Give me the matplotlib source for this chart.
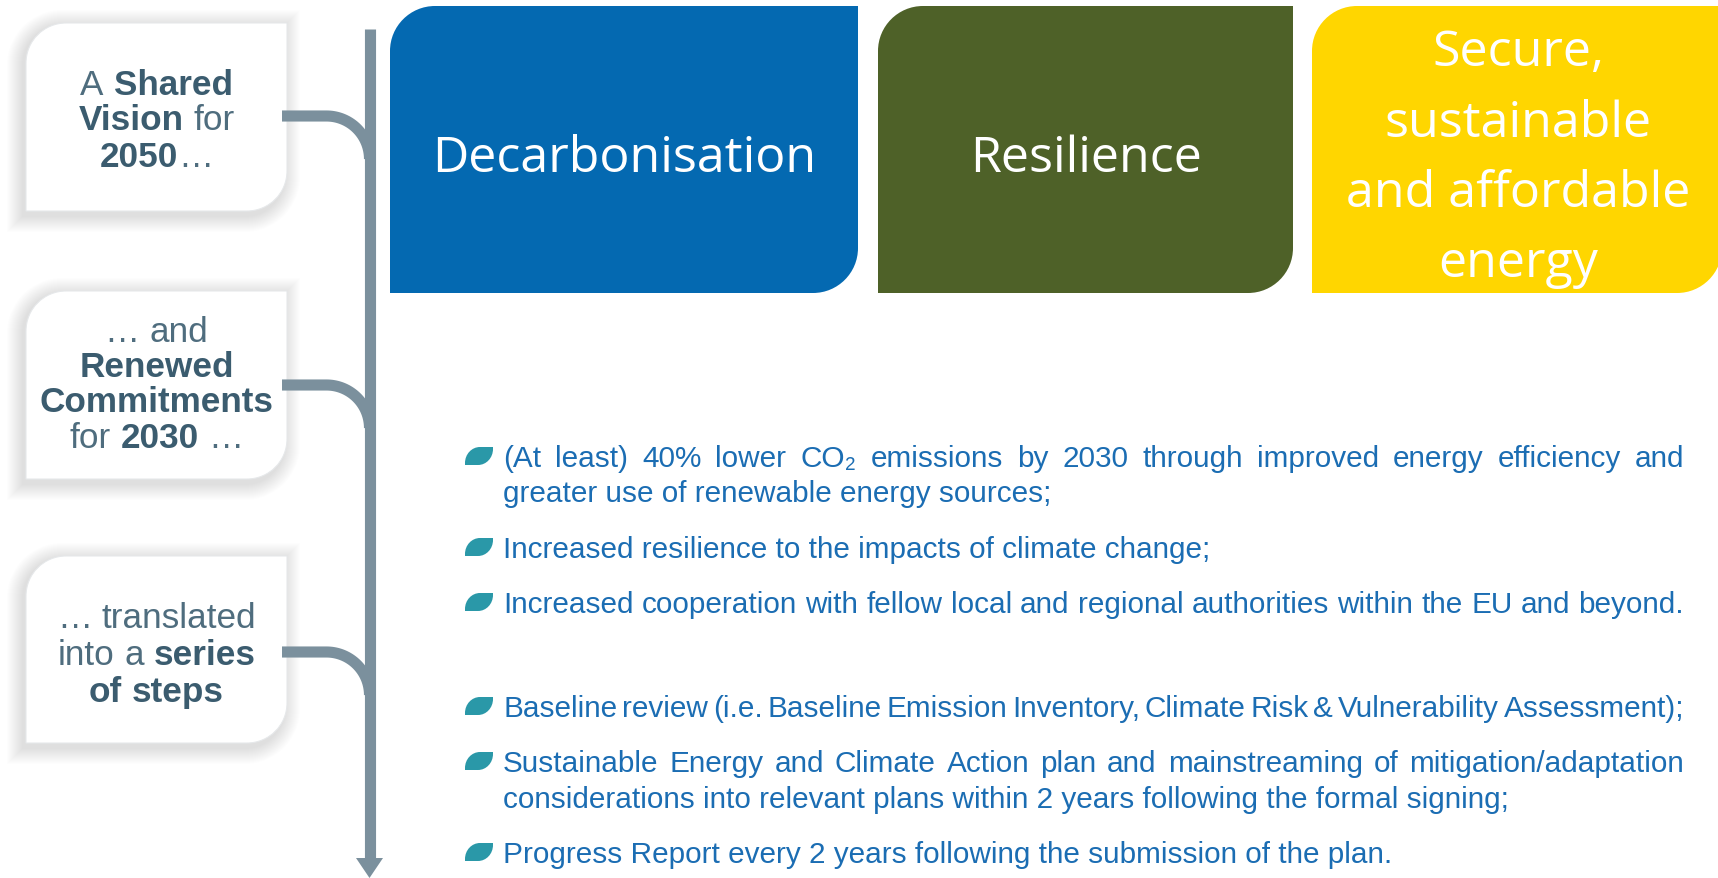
import re
import numpy as np
import matplotlib
matplotlib.use("Agg")
import matplotlib.pyplot as plt
from matplotlib.path import Path
from matplotlib.patches import PathPatch, Polygon

# ---- content ----
pillar_names = ["Decarbonisation", "Resilience", "Secure,\nsustainable\nand affordable\nenergy"]
pillar_colors = ["#0469B1", "#4E6128", "#FFD600"]

stage_text = [
    ["A **Shared**", "**Vision** for", "**2050**…"],
    ["… and", "**Renewed**", "**Commitments**", "for **2030** …"],
    ["… translated", "into a **series**", "**of steps**"],
]

bullet_text = [
    "(At least) 40% lower CO₂ emissions by 2030 through improved energy efficiency and",
    "greater use of renewable energy sources;",
    "Increased resilience to the impacts of climate change;",
    "Increased cooperation with fellow local and regional authorities within the EU and beyond.",
    "Baseline review (i.e. Baseline Emission Inventory, Climate Risk & Vulnerability Assessment);",
    "Sustainable Energy and Climate Action plan and mainstreaming of mitigation/adaptation",
    "considerations into relevant plans within 2 years following the formal signing;",
    "Progress Report every 2 years following the submission of the plan.",
]
has_bullet = [True, False, True, True, True, True, False, True]
justified = [True, False, False, True, True, True, False, False]

# ---- layout (pixels, y down) ----
W, H = 1718, 879
pillar_x = [(390, 858), (878, 1293), (1312, 1722)]
pillar_y = (7, 294)
pillar_baselines = [[172], [172], [66, 137, 207, 277]]
pillar_cx = [624, 1086, 1518]

stage_box_y = [(24, 212), (292, 480), (557, 744)]
stage_box_x = (26, 287)
stage_baselines = [[95, 130, 167], [342, 377, 412, 448], [628, 665, 702]]
stage_conn_y = [117, 386, 653]

bullet_baselines = [467, 502, 558, 613, 717, 772, 808, 863]
text_x0, text_x1 = 503, 1684

line_col = "#7B909D"
stage_col = "#3B5C6F"
stage_col_light = "#4F6D7E"
bullet_col = "#1B6DB3"
leaf_col = "#2A98A8"
sans = ["Liberation Sans", "DejaVu Sans"]

fig = plt.figure(figsize=(W / 100, H / 100), dpi=100)
ax = fig.add_axes([0, 0, 1, 1])
ax.set_xlim(0, W)
ax.set_ylim(H, 0)
ax.axis("off")
renderer = fig.canvas.get_renderer()


def text_width(s, **kw):
    t = ax.text(0, 0, s, **kw)
    w = t.get_window_extent(renderer).width
    t.remove()
    return w


def fit_size(s, target, **kw):
    w = text_width(s, fontsize=20, **kw)
    return 20 * target / w


def leaf_path(x0, y0, x1, y1, rx, ry=None):
    # rounded top-left and bottom-right, sharp other corners
    if ry is None:
        ry = rx
    k = 0.5523
    verts = [(x0 + rx, y0), (x1, y0), (x1, y1 - ry),
             (x1, y1 - ry + k * ry), (x1 - rx + k * rx, y1), (x1 - rx, y1),
             (x0, y1), (x0, y0 + ry),
             (x0, y0 + ry - k * ry), (x0 + rx - k * rx, y0), (x0 + rx, y0),
             (x0 + rx, y0)]
    codes = [Path.MOVETO, Path.LINETO, Path.LINETO,
             Path.CURVE4, Path.CURVE4, Path.CURVE4,
             Path.LINETO, Path.LINETO,
             Path.CURVE4, Path.CURVE4, Path.CURVE4,
             Path.CLOSEPOLY]
    return Path(verts, codes)


def tokens(line):
    out = []
    pending = False
    for frag in re.split(r"(\*\*[^*]+\*\*)", line):
        if not frag:
            continue
        bold = frag.startswith("**")
        s = frag.strip("*") if bold else frag
        for i, p in enumerate(s.split(" ")):
            if i > 0:
                pending = True
            if p == "":
                continue
            out.append((p, bold, pending and len(out) > 0))
            pending = False
    return out


# ---- pillars ----
pfs = fit_size("Decarbonisation", 383, family="Open Sans")
for name, col, (x0, x1), bl, cx in zip(pillar_names, pillar_colors, pillar_x,
                                        pillar_baselines, pillar_cx):
    ax.add_patch(PathPatch(leaf_path(x0, pillar_y[0], x1, pillar_y[1], 45),
                           fc=col, ec="none"))
    for line, y in zip(name.split("\n"), bl):
        ax.text(cx, y, line, ha="center", va="baseline", color="white",
                fontsize=pfs, family="Open Sans")

# ---- timeline ----
vx = 369.5
ax.plot([vx, vx], [30, 862], color=line_col, lw=8, solid_capstyle="butt")
ax.add_patch(Polygon([(356, 859), (383, 859), (vx, 879)], closed=True,
                     fc=line_col, ec="none"))
r = 43
t = np.linspace(0, np.pi / 2, 40)
for cy in stage_conn_y:
    xs = np.concatenate([[stage_box_x[1] - 5], vx - r + r * np.sin(t)])
    ys = np.concatenate([[cy], cy + r - r * np.cos(t)])
    ax.plot(xs, ys, color=line_col, lw=8, solid_capstyle="butt",
            solid_joinstyle="round")

# ---- stage boxes ----
sfs = fit_size("Commitments", 234, family=sans, weight="bold")
space = text_width("a a", fontsize=sfs, family=sans) - text_width("aa", fontsize=sfs, family=sans)
cx = (stage_box_x[0] + stage_box_x[1]) / 2
for (y0, y1), lines, bls in zip(stage_box_y, stage_text, stage_baselines):
    x0, x1 = stage_box_x
    # soft shadow
    for k in range(16):
        ax.add_patch(PathPatch(leaf_path(x0 - 4 - k, y0 - k + 2, x1 + k - 2, y1 + k + 6, 40 + k),
                               fc="black", ec="none", alpha=0.006))
    ax.add_patch(PathPatch(leaf_path(x0, y0, x1, y1, 40), fc="white",
                           ec="#E6E8EA", lw=0.8))
    for line, y in zip(lines, bls):
        toks = tokens(line)
        ws = [text_width(s, fontsize=sfs, family=sans,
                         weight="bold" if b else "normal") for s, b, _ in toks]
        total = sum(ws) + space * sum(1 for _, _, sp in toks if sp)
        x = cx - total / 2
        for (s, b, sp), w in zip(toks, ws):
            if sp:
                x += space
            ax.text(x, y, s, ha="left", va="baseline", fontsize=sfs, family=sans,
                    weight="bold" if b else "normal",
                    color=stage_col if b else stage_col_light)
            x += w

# ---- bullets ----
bfs = fit_size(bullet_text[3], text_x1 - text_x0, family=sans)
for line, bul, just, y in zip(bullet_text, has_bullet, justified, bullet_baselines):
    if bul:
        ax.add_patch(PathPatch(leaf_path(465, y - 19, 493, y - 1, 15, 16),
                               fc=leaf_col, ec="none"))
    if just:
        words = line.split(" ")
        ws = [text_width(wd, fontsize=bfs, family=sans) for wd in words]
        gap = (text_x1 - text_x0 - sum(ws)) / (len(words) - 1)
        x = text_x0
        for wd, w in zip(words, ws):
            ax.text(x, y, wd, ha="left", va="baseline", fontsize=bfs,
                    family=sans, color=bullet_col)
            x += w + gap
    else:
        ax.text(text_x0, y, line, ha="left", va="baseline", fontsize=bfs,
                family=sans, color=bullet_col)

fig.savefig("out.png", dpi=100, facecolor="white")
